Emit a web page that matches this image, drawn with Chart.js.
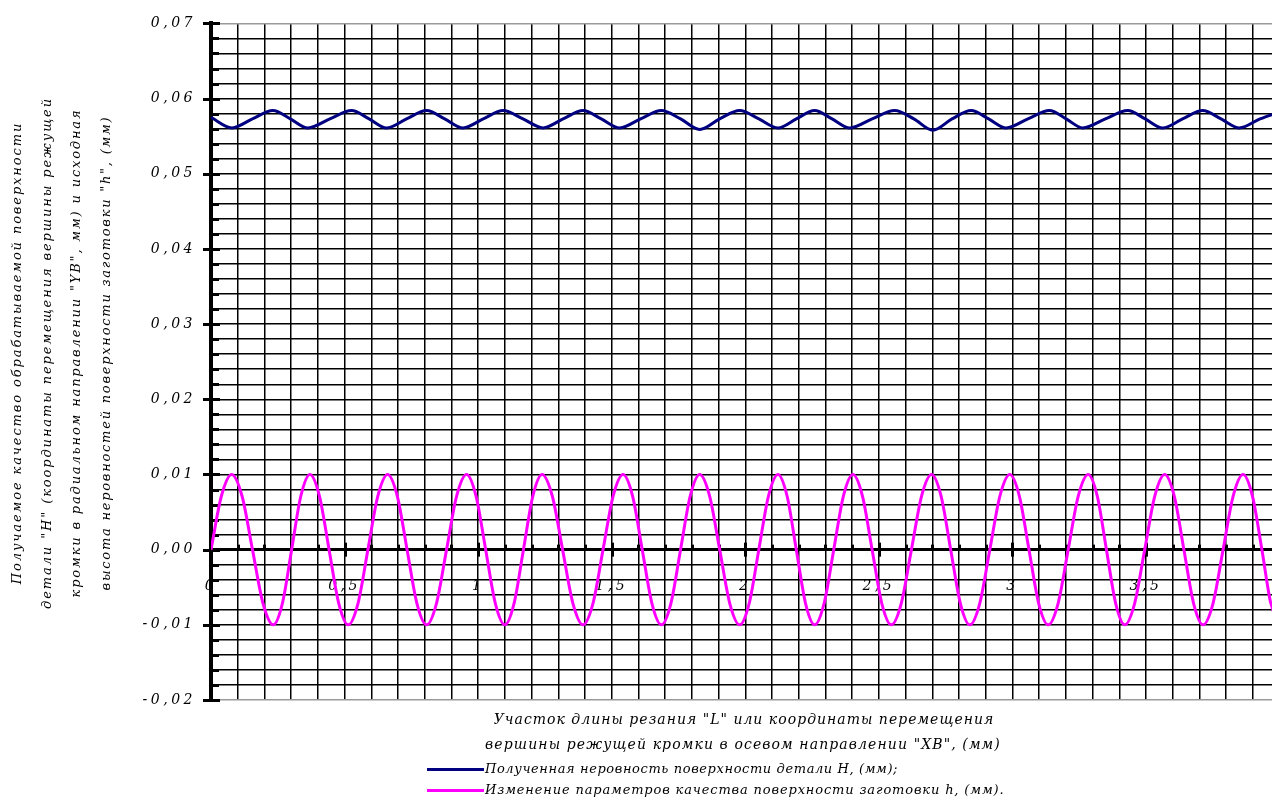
<!DOCTYPE html>
<html>
<head>
<meta charset="utf-8">
<script src="https://cdn.jsdelivr.net/npm/chart.js@4.4.1/dist/chart.umd.min.js"></script>
<style>
html,body{margin:0;padding:0;background:#fff;overflow:hidden;width:1272px;height:805px}
#wrap{position:relative;width:1284px;height:805px;background:#fff}
canvas{position:absolute;left:0;top:0}
.t{position:absolute;font-family:'DejaVu Serif','Liberation Serif',serif;font-style:italic;color:#000;white-space:nowrap}
.t span{display:inline-block}
</style>
</head>
<body>
<div id="wrap"><canvas id="c" width="1284" height="805"></canvas></div>
<script>
// ---- data ----
const xTickLabels = ['0','0,5','1','1,5','2','2,5','3','3,5','4'];
const yTickLabels = ['-0,02','-0,01','0,00','0,01','0,02','0,03','0,04','0,05','0,06','0,07'];

const seriesNames = [
  'Полученная неровность поверхности детали H, (мм);',
  'Изменение параметров качества поверхности заготовки h, (мм).'
];

// magenta series h: zero crossings, half-rise points, peaks and troughs
const hX = [0,0.0387,0.0774,0.1164,0.1553,0.1942,0.2331,0.2675,0.3018,0.3361,0.3704,0.4062,0.4420,0.4779,
  0.5137,0.5506,0.5874,0.6243,0.6611,0.6976,0.7340,0.7705,0.8070,0.8444,0.8818,0.9192,0.9566,0.9924,
  1.0282,1.0641,1.0999,1.1348,1.1696,1.2045,1.2394,1.2778,1.3161,1.3545,1.3928,1.4302,1.4676,1.5051,
  1.5425,1.5784,1.6143,1.6502,1.6861,1.7219,1.7577,1.7936,1.8294,1.8668,1.9042,1.9416,1.9790,2.0149,
  2.0507,2.0866,2.1224,2.1567,2.1910,2.2253,2.2596,2.2954,2.3312,2.3671,2.4029,2.4389,2.4748,2.5107,
  2.5466,2.5843,2.6220,2.6597,2.6974,2.7332,2.7690,2.8048,2.8406,2.8781,2.9155,2.9529,2.9903,3.0262,
  3.0621,3.0980,3.1339,3.1714,3.2088,3.2462,3.2836,3.3178,3.3520,3.3863,3.4205,3.4579,3.4953,3.5327,
  3.5701,3.6061,3.6420,3.6779,3.7138,3.7513,3.7887,3.8261,3.8635,3.8988,3.9340,3.9670,4.0];
const hY = [0,0.0071,0.01,0.0071,0,-0.0071,-0.01,-0.0071,0,0.0071,0.01,0.0071,0,-0.0071,
  -0.01,-0.0071,0,0.0071,0.01,0.0071,0,-0.0071,-0.01,-0.0071,0,0.0071,0.01,0.0071,
  0,-0.0071,-0.01,-0.0071,0,0.0071,0.01,0.0071,0,-0.0071,-0.01,-0.0071,0,0.0071,
  0.01,0.0071,0,-0.0071,-0.01,-0.0071,0,0.0071,0.01,0.0071,0,-0.0071,-0.01,-0.0071,
  0,0.0071,0.01,0.0071,0,-0.0071,-0.01,-0.0071,0,0.0071,0.01,0.0071,0,-0.0071,
  -0.01,-0.0071,0,0.0071,0.01,0.0071,0,-0.0071,-0.01,-0.0071,0,0.0071,0.01,0.0071,
  0,-0.0071,-0.01,-0.0071,0,0.0071,0.01,0.0071,0,-0.0071,-0.01,-0.0071,0,0.0071,
  0.01,0.0071,0,-0.0071,-0.01,-0.0071,0,0.0071,0.01,0.0071,0,-0.0071,-0.0099];

// navy series H: minima, midpoints, maxima
const HX = [0,0.0786,0.155,0.2319,0.297,0.3629,0.445,0.5264,0.592,0.6573,0.732,0.8070,0.875,0.9439,
  1.019,1.0935,1.168,1.2432,1.318,1.3928,1.461,1.5301,1.608,1.686,1.758,1.8294,1.904,1.979,
  2.051,2.1224,2.191,2.2596,2.325,2.3912,2.475,2.559,2.631,2.7022,2.774,2.8458,2.911,2.9768,
  3.058,3.1388,3.201,3.2634,3.348,3.4317,3.497,3.5626,3.637,3.7123,3.781,3.8496,3.927,4.0];
const HY = [0.0575,0.0561,0.0573,0.0584,0.0573,0.0561,0.0573,0.0584,0.0573,0.0561,0.0573,0.0584,0.0573,0.0561,
  0.0573,0.0584,0.0573,0.0561,0.0573,0.0584,0.0573,0.0561,0.0573,0.0584,0.0573,0.0559,0.0573,0.0584,
  0.0573,0.0561,0.0573,0.0584,0.0573,0.0561,0.0573,0.0584,0.0573,0.0558,0.0573,0.0584,0.0573,0.0561,
  0.0573,0.0584,0.0573,0.0561,0.0573,0.0584,0.0573,0.0561,0.0573,0.0584,0.0573,0.0561,0.0573,0.0582];

const yTitleLines = [
  'Получаемое качество обрабатываемой поверхности',
  'детали "H" (координаты перемещения вершины режущей',
  'кромки в радиальном направлении "YB", мм) и исходная',
  'высота неровностей поверхности заготовки "h", (мм)'
];
const xTitleLines = [
  'Участок длины резания "L" или координаты перемещения',
  'вершины режущей кромки в осевом направлении "XB", (мм)'
];

// ---- chart ----
const tickFont = {family:"'DejaVu Serif','Liberation Serif',serif", size:14, style:'italic'};

const spacingPlugin = {
  id:'spacing',
  beforeDraw(chart){ chart.ctx.letterSpacing = '3.5px'; }
};

const axisTicks = {
  id:'axisTicks',
  beforeDatasetsDraw(chart){
    const {ctx, chartArea, scales:{x, y}} = chart;
    const left = chartArea.left;
    const y0 = y.getPixelForValue(0);
    ctx.save();
    ctx.fillStyle = '#000';
    y.ticks.forEach(t => {
      const py = Math.round(y.getPixelForValue(t.value));
      if (t.label !== '') ctx.fillRect(left - 8, py - 1, 17, 3);
      else ctx.fillRect(left, py - 1, 8, 3);
    });
    x.ticks.forEach(t => {
      const px = Math.round(x.getPixelForValue(t.value));
      if (t.label !== '') ctx.fillRect(px - 1, y0 - 7, 3, 14);
      else ctx.fillRect(px - 1, y0 - 5, 3, 5);
    });
    ctx.restore();
  }
};

const chart = new Chart(document.getElementById('c'), {
  type:'line',
  data:{
    datasets:[
      {label:seriesNames[0], data:HX.map((v,i)=>({x:v,y:HY[i]})), borderColor:'#000080', borderWidth:3,
       pointRadius:0, cubicInterpolationMode:'monotone', fill:false},
      {label:seriesNames[1], data:hX.map((v,i)=>({x:v,y:hY[i]})), borderColor:'#FF00FF', borderWidth:3,
       pointRadius:0, cubicInterpolationMode:'monotone', fill:false}
    ]
  },
  options:{
    responsive:false, animation:false, devicePixelRatio:1,
    layout:{padding:{left:0,right:4,top:21,bottom:105}},
    plugins:{legend:{display:false}, tooltip:{enabled:false}, title:{display:false}},
    scales:{
      x:{
        type:'linear', position:{y:0}, min:0, max:4,
        ticks:{stepSize:0.1, autoSkip:false, maxRotation:0, minRotation:0, padding:0, color:'#000', font:tickFont,
          callback:(v)=>{ const k=Math.round(v*2); return Math.abs(v*2-k)<1e-6 ? (xTickLabels[k] ?? '') : ''; }},
        grid:{color:'#000', lineWidth:1.5, drawTicks:true, tickLength:28, tickColor:'rgba(0,0,0,0)'},
        border:{display:true, color:'#000', width:3}
      },
      y:{
        type:'linear', min:-0.02, max:0.07,
        ticks:{stepSize:0.002, autoSkip:false, padding:15, color:'#000', font:tickFont,
          callback:(v)=>{ const k=Math.round(v*100); return Math.abs(v*100-k)<1e-6 ? (yTickLabels[k+2] ?? '') : ''; }},
        grid:{color:(c)=>{ const v=c.tick ? c.tick.value : 0; return (Math.abs(v-0.07)<1e-9||Math.abs(v+0.02)<1e-9) ? '#9a9a9a' : '#000'; },
              lineWidth:1.5, drawTicks:false},
        border:{display:true, color:'#000', width:4},
        afterFit:(s)=>{ s.width = 211; }
      }
    }
  },
  plugins:[spacingPlugin, axisTicks]
});

// ---- HTML texts ----
const wrap = document.getElementById('wrap');
function fit(span, target){
  span.style.letterSpacing = '0px';
  const w = span.offsetWidth;
  const n = span.textContent.length;
  span.style.letterSpacing = ((target - w) / Math.max(1, n - 1)).toFixed(2) + 'px';
}
function centeredLine(text, cx, cy, size, target){
  const d = document.createElement('div');
  d.className = 't';
  d.style.cssText += `left:${cx-400}px;top:${cy-12}px;width:800px;height:24px;line-height:24px;text-align:center;font-size:${size}px;`;
  const s = document.createElement('span'); s.textContent = text; d.appendChild(s);
  wrap.appendChild(d); fit(s, target);
}

// Y title (rotated)
(function(){
  const lh = 29.5, n = yTitleLines.length, W = 560, H = lh*n;
  const cx = 60.5, cy = 353;
  const d = document.createElement('div');
  d.className = 't';
  d.style.cssText += `left:${cx-W/2}px;top:${cy-H/2}px;width:${W}px;height:${H}px;transform:rotate(-90deg);transform-origin:50% 50%;font-size:13px;`;
  const targets = [460, 510, 487, 473];
  wrap.appendChild(d);
  yTitleLines.forEach((t,i)=>{
    const row = document.createElement('div');
    row.style.cssText = `height:${lh}px;line-height:${lh}px;text-align:center;`;
    const s = document.createElement('span'); s.textContent = t; row.appendChild(s); d.appendChild(row);
    fit(s, targets[i]);
  });
})();

// X title
centeredLine(xTitleLines[0], 744, 719, 14, 500);
centeredLine(xTitleLines[1], 743, 744, 14, 515);

// Legend
(function(){
  const rows = [769, 790];
  const targets = [413, 518];
  chart.data.datasets.forEach((ds,i)=>{
    const ln = document.createElement('div');
    ln.style.cssText = `position:absolute;left:427px;top:${rows[i]-1.5}px;width:57px;height:3px;background:${ds.borderColor};`;
    wrap.appendChild(ln);
    const d = document.createElement('div');
    d.className = 't';
    d.style.cssText += `left:485px;top:${rows[i]-10}px;height:20px;line-height:20px;font-size:13px;`;
    const s = document.createElement('span'); s.textContent = ds.label; d.appendChild(s);
    wrap.appendChild(d); fit(s, targets[i]);
  });
})();
</script>
</body>
</html>
